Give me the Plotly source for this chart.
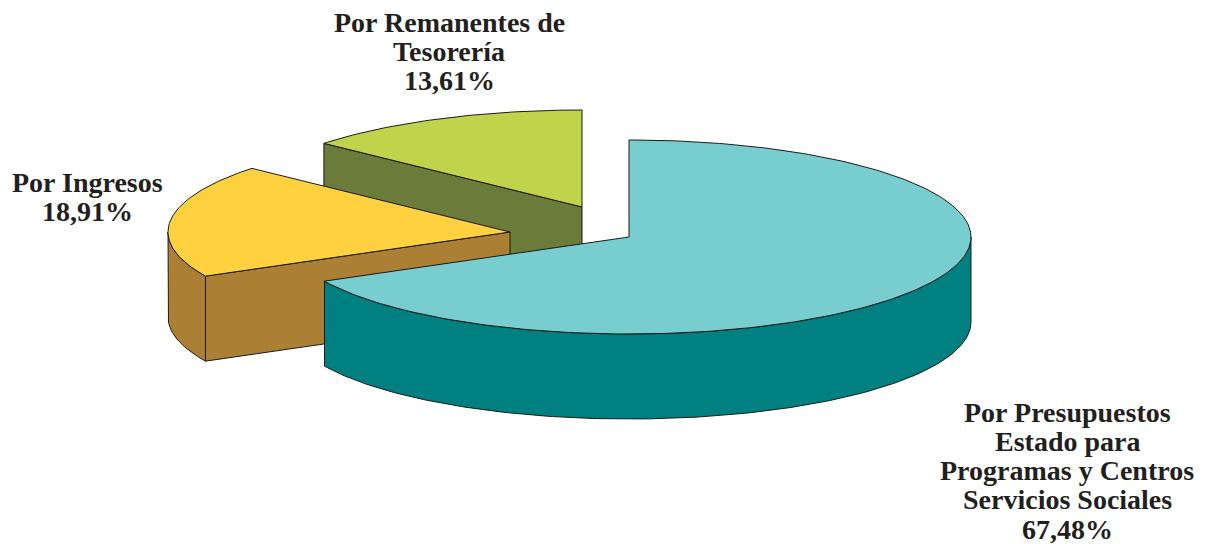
import numpy as np
import plotly.graph_objects as go

# Data
categories = ["Por Presupuestos Estado para Programas y Centros Servicios Sociales",
              "Por Ingresos", "Por Remanentes de Tesorería"]
values = [67.48, 18.91, 13.61]
label_lines = [["Por Presupuestos", "Estado para", "Programas y Centros", "Servicios Sociales", "67,48%"],
               ["Por Ingresos", "18,91%"],
               ["Por Remanentes de", "Tesorería", "13,61%"]]

# Styling / geometry of the 3D exploded pie
top_colors = ["#78CECE", "#FFD13F", "#BFD34B"]
side_colors = ["#008080", "#AB8034", "#6B7C3A"]
apexes = [(629, 237), (510, 232), (582, 207)]
RX, RY, DEPTH = 342, 97, 85
label_pos = [(1067, 412), (87, 182), (449, 22)]
LINE_STEP = 29.3
LINE = dict(color="#1a1a1a", width=1)

fig = go.Figure()


def poly(xs, ys, color):
    fig.add_trace(go.Scatter(x=xs, y=ys, mode="lines", fill="toself", fillcolor=color,
                             line=LINE, hoverinfo="skip", showlegend=False))


edges = np.concatenate([[0], np.cumsum(values)]) / sum(values) * 2 * np.pi


def arc(i, a0, a1):
    cx, cy = apexes[i]
    t = np.linspace(a0, a1, max(int(abs(a1 - a0) * 60), 2))
    return cx + RX * np.sin(t), cy - RY * np.cos(t)


def wall(i, a0, a1):
    x, y = arc(i, a0, a1)
    poly(np.r_[x, x[::-1], x[0]], np.r_[y, y[::-1] + DEPTH, y[0]], side_colors[i])


def cut(i, a):
    cx, cy = apexes[i]
    x, y = arc(i, a, a)
    poly([cx, x[0], x[0], cx, cx], [cy, y[0], y[0] + DEPTH, cy + DEPTH, cy], side_colors[i])


def top(i):
    cx, cy = apexes[i]
    x, y = arc(i, edges[i], edges[i + 1])
    poly(np.r_[cx, x, cx], np.r_[cy, y, cy], top_colors[i])


# painter's order: back slice to front slice
cut(2, edges[2])
top(2)
cut(1, edges[1])
wall(1, edges[1], np.deg2rad(270))
top(1)
wall(0, np.pi / 2, edges[1])
top(0)

for (x, y), lines in zip(label_pos, label_lines):
    for k, t in enumerate(lines):
        fig.add_annotation(x=x, y=y + k * LINE_STEP, text=f"<b>{t}</b>", showarrow=False,
                           align="center",
                           font=dict(family="Liberation Serif", size=28, color="#231F20"))

fig.update_layout(
    width=1205, height=544, margin=dict(l=0, r=0, t=0, b=0),
    paper_bgcolor="white", plot_bgcolor="white", showlegend=False,
    xaxis=dict(range=[0, 1205], visible=False, fixedrange=True),
    yaxis=dict(range=[544, 0], visible=False, fixedrange=True),
)
fig.write_html("out.html", config=dict(displayModeBar=False),
               post_script="document.body.style.margin='0';document.body.style.overflow='hidden';")
